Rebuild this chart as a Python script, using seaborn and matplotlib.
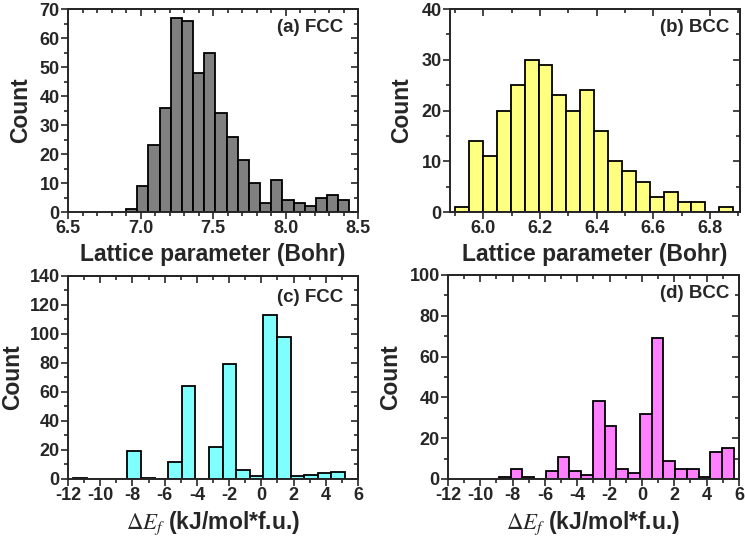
#! /usr/bin/env python3

# %% Setup
import numpy as np
import pandas as pd
import matplotlib
matplotlib.use("Agg")
import matplotlib.pyplot as plt
from matplotlib.ticker import MultipleLocator
import seaborn as sns

sns.set_style("ticks")
plt.rcParams["font.family"] = ["Liberation Sans", "DejaVu Sans"]
plt.rcParams["font.weight"] = "bold"
plt.rcParams["axes.labelweight"] = "bold"
plt.rcParams["axes.unicode_minus"] = False
plt.rcParams["mathtext.fontset"] = "custom"
plt.rcParams["mathtext.rm"] = "STIXGeneral:weight=normal"
plt.rcParams["mathtext.it"] = "STIXGeneral:style=italic:weight=normal"
plt.rcParams["axes.linewidth"] = 1.4

# %% Data
# (a) FCC lattice parameter, 20 bins
fcc_lat_range = (6.90, 8.44)
fcc_lat_counts = [1, 9, 23, 36, 67, 66, 48, 55, 34, 26,
                  18, 10, 3, 11, 4, 3, 2, 5, 6, 4]

# (b) BCC lattice parameter, 20 bins
bcc_lat_range = (5.90, 6.882)
bcc_lat_counts = [1, 14, 11, 20, 25, 30, 29, 23, 20, 24,
                  16, 10, 8, 6, 3, 4, 2, 2, 0, 1]

# (c) FCC formation energy, 20 bins
fcc_ef_range = (-11.69, 5.19)
fcc_ef_counts = [1, 0, 0, 0, 19, 1, 0, 12, 64, 0,
                 22, 79, 6, 2, 113, 98, 2, 3, 4, 5]

# (d) BCC formation energy, 20 bins
bcc_ef_range = (-8.85, 5.68)
bcc_ef_counts = [1, 5, 1, 0, 4, 11, 4, 2, 38, 26,
                 5, 3, 32, 69, 9, 5, 5, 1, 13, 15]

lat_label = "Lattice parameter (Bohr)"
ef_label = r"$\Delta E_f$ (kJ/mol*f.u.)"

panels = [
    dict(rng=fcc_lat_range, counts=fcc_lat_counts, color="#808080",
         text="(a) FCC", xlabel=lat_label, xlim=(6.5, 8.5), xmaj=0.5, xmin=0.1,
         ylim=(0, 70), ymaj=10, rect=[0.0913, 0.6074, 0.3893, 0.3759],
         tx=0.948, ty=0.91, ylx=-0.125),
    dict(rng=bcc_lat_range, counts=bcc_lat_counts, color="#FFFF80",
         text="(b) BCC", xlabel=lat_label, xlim=(5.882, 6.906), xmaj=0.2, xmin=0.1,
         ylim=(0, 40), ymaj=10, rect=[0.6040, 0.6074, 0.3893, 0.3759],
         tx=0.962, ty=0.91, ylx=-0.128),
    dict(rng=fcc_ef_range, counts=fcc_ef_counts, color="#80FFFF",
         text="(c) FCC", xlabel=ef_label, xlim=(-12, 6), xmaj=2, xmin=1,
         ylim=(0, 140), ymaj=20, rect=[0.0913, 0.1130, 0.3893, 0.3759],
         tx=0.948, ty=0.896, ylx=-0.150),
    dict(rng=bcc_ef_range, counts=bcc_ef_counts, color="#FF80FF",
         text="(d) BCC", xlabel=ef_label, xlim=(-12, 6), xmaj=2, xmin=1,
         ylim=(0, 100), ymaj=20, rect=[0.6013, 0.1130, 0.3906, 0.3778],
         tx=0.966, ty=0.907, ylx=-0.158),
]

# %% Plot
fig = plt.figure(figsize=(7.45, 5.40), dpi=100)

for p in panels:
    ax = fig.add_axes(p["rect"])
    edges = np.linspace(p["rng"][0], p["rng"][1], len(p["counts"]) + 1)
    df = pd.DataFrame({"center": (edges[:-1] + edges[1:]) / 2,
                       "count": p["counts"]})
    # seaborn compares bins with "auto" when weights are used, so pass a list
    sns.histplot(data=df, x="center", weights="count", bins=list(edges), ax=ax,
                 color=p["color"], edgecolor="black", linewidth=1.3, alpha=1)

    ax.set_xlim(p["xlim"])
    ax.set_ylim(p["ylim"])
    ax.xaxis.set_major_locator(MultipleLocator(p["xmaj"]))
    ax.xaxis.set_minor_locator(MultipleLocator(p["xmin"]))
    ax.yaxis.set_major_locator(MultipleLocator(p["ymaj"]))
    ax.yaxis.set_minor_locator(MultipleLocator(p["ymaj"] / 2))
    ax.tick_params(which="both", direction="out", width=1.2, labelsize=13, pad=1)
    ax.tick_params(which="major", length=5)
    ax.tick_params(which="minor", length=3)

    # inward ticks on top and right
    top = ax.secondary_xaxis("top")
    top.xaxis.set_major_locator(MultipleLocator(p["xmaj"]))
    top.xaxis.set_minor_locator(MultipleLocator(p["xmin"]))
    top.tick_params(which="both", direction="in", labeltop=False, width=1.2)
    top.tick_params(which="major", length=5)
    top.tick_params(which="minor", length=3)
    right = ax.secondary_yaxis("right")
    right.yaxis.set_major_locator(MultipleLocator(p["ymaj"]))
    right.yaxis.set_minor_locator(MultipleLocator(p["ymaj"] / 2))
    right.tick_params(which="both", direction="in", labelright=False, width=1.2)
    right.tick_params(which="major", length=5)
    right.tick_params(which="minor", length=3)

    ax.set_xlabel(p["xlabel"], fontsize=16.5, labelpad=4)
    ax.set_ylabel("Count", fontsize=16.5)
    ax.yaxis.set_label_coords(p["ylx"], 0.5)
    ax.text(p["tx"], p["ty"], p["text"], transform=ax.transAxes,
            ha="right", va="center", fontsize=13.5, fontweight="bold")

plt.savefig("out.png", dpi=100)
